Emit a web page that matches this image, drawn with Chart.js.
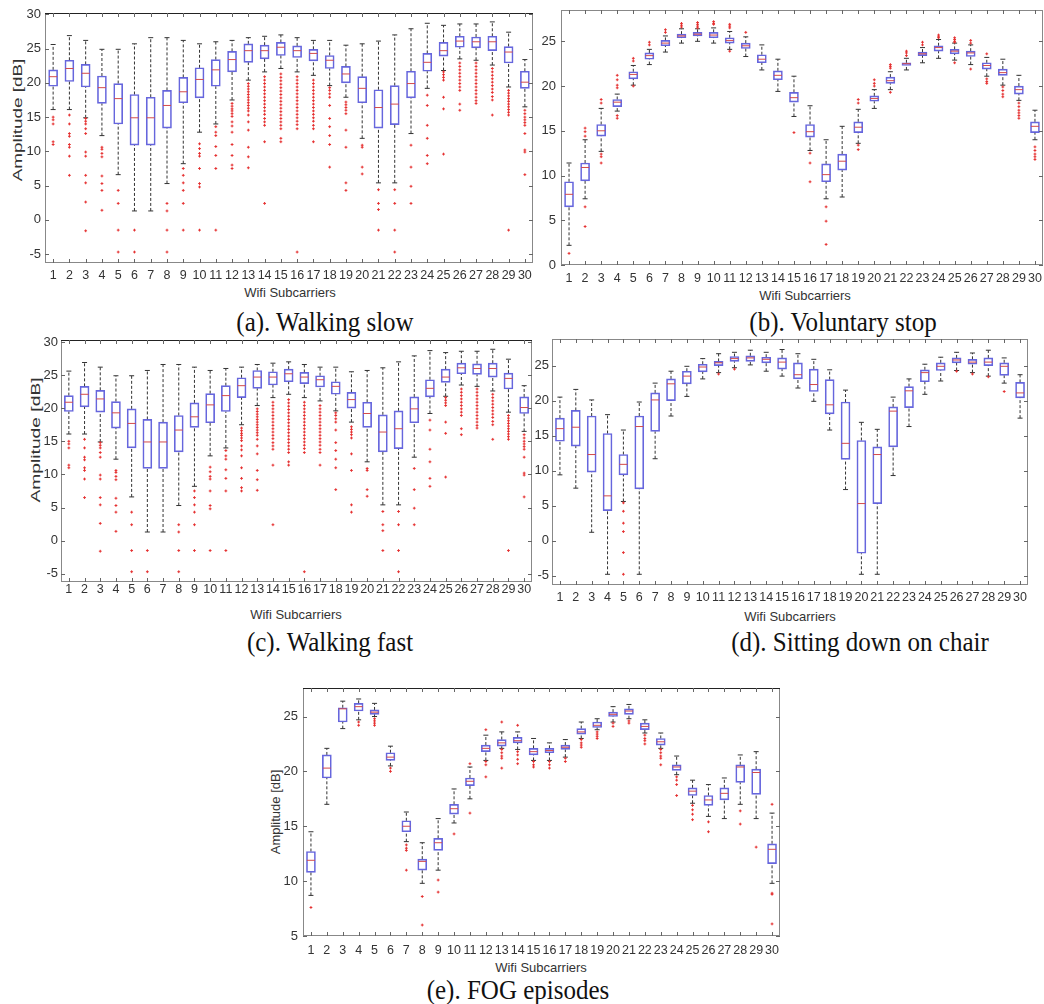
<!DOCTYPE html>
<html><head><meta charset="utf-8">
<script src="https://cdn.jsdelivr.net/npm/chart.js@4.4.1/dist/chart.umd.min.js"></script>
<style>
body{margin:0;background:#fff;width:1044px;height:1004px;position:relative;overflow:hidden;font-family:Arial,"Liberation Sans",sans-serif;}
canvas{position:absolute;}
.cap{position:absolute;font-family:"Liberation Serif","Times New Roman",serif;font-size:25px;color:#111;white-space:nowrap;transform:translate(-50%,-50%) scaleY(1.1);}
.xt{position:absolute;font-size:13px;color:#333;white-space:nowrap;transform:translate(-50%,-50%);}
.yt{position:absolute;font-size:13px;color:#333;white-space:nowrap;}
</style></head><body>
<div class="cap" style="left:325px;top:322px">(a). Walking slow</div>
<div class="cap" style="left:843px;top:322px">(b). Voluntary stop</div>
<div class="cap" style="left:330px;top:642px">(c). Walking fast</div>
<div class="cap" style="left:860px;top:642px">(d). Sitting down on chair</div>
<div class="cap" style="left:518px;top:990px">(e). FOG episodes</div>
<div class="xt" style="left:290px;top:292px">Wifi Subcarriers</div>
<div class="xt" style="left:805px;top:295px">Wifi Subcarriers</div>
<div class="xt" style="left:296px;top:614px">Wifi Subcarriers</div>
<div class="xt" style="left:790px;top:616px">Wifi Subcarriers</div>
<div class="xt" style="left:541px;top:967px">Wifi Subcarriers</div>
<div class="yt" style="left:17px;top:120px;transform:translate(-50%,-50%) rotate(-90deg) scaleX(1.45)">Amplitude [dB]</div>
<div class="yt" style="left:35px;top:440px;transform:translate(-50%,-50%) rotate(-90deg) scaleX(1.48)">Amplitude [dB]</div>
<div class="yt" style="left:275px;top:812px;transform:translate(-50%,-50%) rotate(-90deg)">Amplitude [dB]</div>
<script>
// ---------- DATA ----------
const subcarriers = [1,2,3,4,5,6,7,8,9,10,11,12,13,14,15,16,17,18,19,20,21,22,23,24,25,26,27,28,29,30];
const ticksWalk = [-5,0,5,10,15,20,25,30];
const ticksStop = [0,5,10,15,20,25];
const ticksSit = [-5,0,5,10,15,20,25];
const ticksFog = [5,10,15,20,25];

// (a) Walking slow
const walkSlowLow  = [16.1,16.1,14.9,12.3,6.6,1.3,1.3,5.3,8.2,12.8,14.0,17.5,20.4,21.6,22.1,21.6,21.1,19.6,17.9,11.9,5.4,5.4,12.6,19.2,21.8,23.5,23.3,22.6,19.4,16.5];
const walkSlowQ1   = [19.5,20.2,19.4,17.0,14.0,10.9,10.9,13.4,17.1,17.8,19.5,21.6,23.0,23.5,24.0,23.7,23.2,22.1,20.0,17.1,13.4,13.9,17.8,21.7,23.9,25.2,25.1,24.7,22.9,19.2];
const walkSlowMed  = [20.9,22.1,21.4,19.3,17.7,14.9,14.9,16.7,18.7,20.5,21.9,23.4,24.7,24.7,25.2,24.7,24.3,23.3,21.3,19.2,16.4,16.9,19.9,23.0,24.7,26.1,26.0,26.0,24.5,20.1];
const walkSlowQ3   = [21.9,23.3,22.7,21.0,19.9,18.3,17.9,18.9,20.8,22.2,23.4,24.6,25.7,25.5,25.9,25.4,24.9,24.0,22.4,20.9,19.0,19.6,21.7,24.3,25.9,26.8,26.7,26.8,25.3,21.7];
const walkSlowHigh = [25.6,26.9,26.2,24.9,24.9,25.7,26.6,26.6,26.2,25.7,26.0,26.2,26.6,26.8,27.0,26.6,26.2,26.2,25.5,25.7,26.1,27.0,27.9,28.7,28.4,28.6,28.6,28.9,27.4,23.4];
const walkSlowOutliers = [
 [15.0,14.6,14.0,11.4,11.0],
 [15.3,14.0,12.6,12.2,11.0,10.6,9.3,6.5],
 [14.8,14.4,14.0,13.3,12.6,9.9,9.3,6.5,5.4,2.6,-1.6],
 [10.6,10.3,9.7,9.2,6.4,5.3,4.3,1.4],
 [4.3,2.4,-1.5,-4.7],
 [-1.5,-4.7],
 [],
 [2.4,1.3,-1.5,-4.7],
 [7.5,6.5,5.4,4.3,2.4,-1.5],
 [11.1,10.4,9.7,9.3,7.5,5.3,4.8,-1.5],
 [13.6,12.8,12.3,10.7,9.4,7.5,-1.5],
 [17.0,16.6,16.2,15.9,15.5,15.1,14.3,13.7,12.8,11.0,9.4,8.0,7.5],
 [19.9,19.5,19.1,18.7,18.3,17.9,17.5,17.1,16.7,16.3,15.9,15.3,14.3,13.1,10.6,9.2,7.6],
 [20.9,20.4,19.9,19.4,18.9,18.4,17.9,17.4,16.9,16.4,15.9,15.4,14.8,14.3,13.8,11.4,2.4],
 [21.3,20.8,20.3,19.8,19.3,18.8,18.3,17.8,17.3,16.8,16.3,15.8,15.3,14.8,14.3,13.8,13.3,11.9,11.4],
 [20.9,20.4,19.9,19.4,18.9,18.4,17.9,17.4,16.9,16.4,15.9,15.4,14.9,14.4,13.9,13.3,-4.7],
 [20.4,19.9,19.4,18.9,18.4,17.9,17.4,16.9,16.4,15.9,15.4,14.9,14.4,13.8,13.3,11.4],
 [19.3,18.9,18.4,17.9,16.7,14.8,13.6,12.3,11.0,7.7],
 [17.2,16.8,16.4,16.0,15.5,13.1,10.6,5.4,4.3],
 [10.9,10.6,7.7,6.7],
 [4.4,2.4,1.5,-1.5],
 [4.4,2.4,-1.5,-4.7],
 [10.9,7.7,4.9,2.4],
 [18.2,16.7,13.8,11.9,9.4,8.2],
 [21.6,21.2,20.8,20.4,17.9,16.2,9.6],
 [22.9,22.4,21.9,21.4,20.9,20.4,19.9,19.4,18.9,16.9,16.0],
 [22.9,22.4,21.9,21.4,20.9,20.4,19.9,19.4,18.9,18.4,17.9,17.4,17.0],
 [22.1,21.6,21.1,20.6,20.1,19.6,19.1,18.6,18.0,17.5,15.3],
 [18.9,18.5,18.1,17.7,17.3,16.9,16.5,16.1,15.7,15.3,-1.5],
 [16.0,15.5,15.0,14.6,14.2,13.8,12.6,10.2,9.9,6.6]
];

// (c) Walking fast (the picture shows the same distribution as walking slow)
const walkFastLow = walkSlowLow, walkFastQ1 = walkSlowQ1, walkFastMed = walkSlowMed,
      walkFastQ3 = walkSlowQ3, walkFastHigh = walkSlowHigh, walkFastOutliers = walkSlowOutliers;

// (b) Voluntary stop
const stopLow  = [2.2,7.4,12.7,17.2,20.1,22.4,23.8,24.8,25.0,24.8,24.1,23.3,21.8,19.4,16.6,12.8,7.4,7.6,13.6,17.5,19.6,21.8,22.6,23.1,22.9,22.4,21.1,20.1,18.4,14.0];
const stopQ1   = [6.5,9.4,14.4,17.7,20.8,23.0,24.5,25.4,25.6,25.4,24.8,24.2,22.6,20.7,18.2,14.3,9.3,10.6,14.8,18.3,20.3,22.3,23.4,23.9,23.6,23.3,21.9,21.2,19.1,14.8];
const stopMed  = [7.9,10.9,15.0,18.2,21.3,23.4,24.8,25.6,25.8,25.7,25.1,24.5,23.0,21.2,18.7,14.9,10.1,11.6,15.4,18.6,20.6,22.5,23.6,24.3,23.9,23.7,22.3,21.5,19.6,15.5];
const stopQ3   = [9.3,11.4,15.7,18.5,21.6,23.7,25.1,25.8,26.0,26.0,25.4,24.8,23.5,21.7,19.3,15.7,11.3,12.4,16.0,18.9,21.0,22.6,23.8,24.5,24.1,23.9,22.6,21.9,20.0,16.0];
const stopHigh = [11.4,14.0,17.5,19.1,22.3,24.1,25.6,26.4,26.4,26.5,26.1,25.5,24.6,23.0,21.1,17.8,14.0,15.5,17.4,19.6,21.6,23.1,24.3,25.2,24.8,24.6,23.2,23.0,21.2,17.3];
const stopOutliers = [
 [1.3],[15.3,14.9,14.4,6.5,4.3],[18.5,18.1,12.4,12.1,11.4],[21.2,20.7,20.1,19.8,16.7,16.4],
 [23.1,22.8,20.0],[24.9,24.6],[26.3,26.0],[27.0,26.8,26.6],[27.1,26.9,26.7,26.5],[27.2,27.0,26.9],
 [26.9,26.7,26.5,23.9],[26.0],[],[],[14.8],[12.5,11.4,9.3],[6.5,4.9,2.3],[],
 [18.5,18.1,13.4,12.9],[20.7,20.3,20.0],[22.4,22.2,22.0,19.3],[23.9,23.7,23.4],[24.9,24.6],
 [25.7,25.5,25.4],[25.4,25.2,25.0,24.9,22.6],[25.1,24.8,21.9],[23.6,20.8,20.5,20.3],
 [19.9,19.5,19.1,18.8],[18.1,17.7,17.3,17.0,16.7,16.4],[13.2,12.8,12.4,12.1,11.8]
];

// (d) Sitting down on chair
const sitLow  = [9.4,7.5,1.2,-4.8,5.6,-4.8,11.7,17.8,20.6,23.1,24.0,24.7,25.1,24.2,23.5,21.8,19.9,15.8,7.3,-4.8,-4.8,9.3,16.3,20.9,22.8,24.3,24.0,23.5,22.5,17.5];
const sitQ1   = [14.2,13.5,9.8,4.3,9.4,7.4,15.6,20.0,22.4,24.1,25.0,25.6,25.6,25.4,24.5,23.1,21.3,18.1,11.6,-1.8,5.3,13.4,19.0,22.7,24.3,25.4,25.2,25.0,23.6,20.4];
const sitMed  = [16.0,16.2,12.3,6.4,10.9,16.3,20.1,22.4,23.5,24.8,25.4,26.0,26.1,25.9,25.5,23.7,22.3,19.4,13.9,5.3,12.3,18.5,21.4,24.0,24.9,25.8,25.5,25.5,24.9,21.1];
const sitQ3   = [17.5,18.6,17.8,15.3,12.3,17.8,21.1,23.1,24.2,25.2,25.6,26.3,26.4,26.2,26.1,25.4,24.5,23.0,19.8,14.3,13.4,19.1,22.0,24.4,25.4,26.1,25.9,26.1,25.4,22.6];
const sitHigh = [20.5,21.6,20.1,18.0,15.8,19.8,22.5,24.2,24.9,26.0,26.7,26.9,27.2,26.9,27.3,26.7,25.9,24.4,21.5,16.9,15.9,20.5,23.1,25.2,26.2,26.9,26.8,27.2,26.1,23.7];
const sitOutliers = [
 [],[],[],[],[5.4,4.2,2.5,1.3,-1.7,-4.8],[],[],[],[],[],[23.8],[24.5],[],[],[],
 [],[],[],[],[],[],[],[],[],[],[24.2],[23.8],[23.4],[21.3],[]
];

// (e) FOG episodes
const fogLow  = [8.7,17.0,23.9,24.7,25.0,20.5,13.6,9.8,11.0,15.3,17.5,21.0,22.1,22.0,21.0,21.0,21.3,23.0,23.8,24.5,24.8,23.5,22.1,19.7,17.1,15.9,15.7,17.0,15.7,9.8];
const fogQ1   = [10.8,19.4,24.5,25.5,25.2,21.0,14.5,11.0,12.8,16.1,18.7,21.8,22.3,22.6,21.5,21.7,22.0,23.4,24.0,25.0,25.2,23.8,22.4,20.1,17.8,16.9,17.4,19.0,17.9,11.6];
const fogMed  = [11.9,20.3,25.7,25.9,25.4,21.3,15.0,11.8,13.5,16.6,19.1,22.1,22.6,22.8,21.8,21.9,22.2,23.6,24.2,25.2,25.5,24.1,22.7,20.4,18.2,17.4,18.0,20.4,19.9,12.9];
const fogQ3   = [12.7,21.5,25.8,26.2,25.6,21.7,15.5,12.0,13.9,17.0,19.4,22.4,22.9,23.1,22.1,22.1,22.4,23.9,24.5,25.4,25.7,24.4,23.0,20.6,18.5,17.8,18.5,20.6,20.2,13.4];
const fogHigh = [14.5,22.1,26.4,26.6,26.2,22.3,16.3,13.5,15.7,18.4,20.4,23.3,23.6,23.6,23.0,22.6,22.9,24.5,24.8,25.9,26.1,24.7,23.5,21.4,19.2,18.8,19.4,21.5,21.8,16.2];
const fogOutliers = [
 [7.6],[],[],[24.5,24.2],[24.8,24.6,24.4,24.2],[20.3,20.0],[13.3,13.0,12.8,11.0],[8.6,6.0],[10.1,9.0],[14.3],
 [20.7,16.2],[23.8,20.9,20.6,19.5],[24.5,22.0,21.7,21.4,21.2,20.3],[24.2,21.8,21.5,21.1,20.7],[20.9,20.6,20.4],
 [20.9,20.6,20.3],[21.2,20.9],[22.9,22.6,22.4,22.2],[23.6,23.4,23.2,23.0],[24.4,24.1],
 [24.6,24.4],[23.3,23.0,22.8,22.5],[22.0,21.7,21.4,21.2,20.6],[19.5,19.2,18.8,17.8],[16.9,16.5,16.1,15.6],
 [15.4,14.5],[],[16.4,15.2],[13.1],[17.0,8.9,8.8,6.1]
];

// ---------- RENDERING ----------
const BOX = 'rgba(75,75,215,0.85)', MED = '#d44a4a', WHISK = '#333', OUT = '#e53030';

const framePlugin = {
  id: 'frame',
  afterDraw(chart, args, opts) {
    const {ctx, chartArea: a, scales: {x, y}} = chart;
    ctx.save();
    ctx.lineWidth = 1;
    ctx.strokeStyle = '#888';
    ctx.strokeRect(a.left + 0.5, a.top + 0.5, a.right - a.left - 1, a.bottom - a.top - 1);
    ctx.strokeStyle = opts.top || '#888';
    ctx.beginPath(); ctx.moveTo(a.left, a.top + 0.5); ctx.lineTo(a.right, a.top + 0.5); ctx.stroke();
    ctx.strokeStyle = '#666';
    ctx.beginPath();
    x.ticks.forEach(t => {
      const p = Math.round(x.getPixelForValue(t.value)) + 0.5;
      ctx.moveTo(p, a.bottom); ctx.lineTo(p, a.bottom - 4);
      ctx.moveTo(p, a.top); ctx.lineTo(p, a.top + 4);
    });
    y.ticks.forEach(t => {
      const p = Math.round(y.getPixelForValue(t.value)) + 0.5;
      ctx.moveTo(a.left, p); ctx.lineTo(a.left + 4, p);
      ctx.moveTo(a.right, p); ctx.lineTo(a.right - 4, p);
    });
    ctx.stroke();
    ctx.restore();
  }
};

function boxDatasets(low, q1, med, q3, high, outliers) {
  const boxes = subcarriers.map((c, i) => ({x: c, y: [q1[i], q3[i]]}));
  const whiskers = [];
  subcarriers.forEach((c, i) => {
    whiskers.push({x: c, y: q3[i]}, {x: c, y: high[i]}, {x: c, y: null},
                  {x: c, y: low[i]}, {x: c, y: q1[i]}, {x: c, y: null});
  });
  const caps = [];
  subcarriers.forEach((c, i) => { caps.push({x: c, y: high[i]}, {x: c, y: low[i]}); });
  const medians = subcarriers.map((c, i) => ({x: c, y: med[i]}));
  const outs = [];
  outliers.forEach((arr, i) => arr.forEach(v => outs.push({x: subcarriers[i], y: v})));
  return [
    {type: 'line', data: whiskers, borderColor: WHISK, borderWidth: 1, borderDash: [3, 2],
     pointRadius: 0, spanGaps: false, fill: false, order: 4},
    {type: 'bar', data: boxes, backgroundColor: 'rgba(255,255,255,0)', borderColor: BOX,
     borderWidth: 1, borderSkipped: false, barThickness: 9, order: 3},
    {type: 'line', data: caps, showLine: false, pointStyle: 'line', pointRadius: 2.5,
     pointBorderColor: WHISK, pointBorderWidth: 1, order: 2},
    {type: 'line', data: medians, showLine: false, pointStyle: 'line', pointRadius: 4,
     pointBorderColor: MED, pointBorderWidth: 1, order: 1},
    {type: 'line', data: outs, showLine: false, pointStyle: 'cross', pointRadius: 1.4,
     pointBorderColor: OUT, pointBorderWidth: 1, order: 0}
  ];
}

function zeroPad(s) { s.paddingTop = 0; s.paddingBottom = 0; s.paddingLeft = 0; s.paddingRight = 0; }

function makePanel(rect, yMin, yMax, yTicks, sets, cfg) {
  const padL = 44, padT = 6, padR = 6, padB = 28;
  const c = document.createElement('canvas');
  c.width = rect.r - rect.l + padL + padR;
  c.height = rect.b - rect.t + padT + padB;
  c.style.left = (rect.l - padL) + 'px';
  c.style.top = (rect.t - padT) + 'px';
  document.body.appendChild(c);
  new Chart(c, {
    type: 'bar',
    data: {datasets: sets},
    plugins: [framePlugin],
    options: {
      responsive: false, animation: false, events: [],
      layout: {padding: {left: 0, top: padT, right: padR, bottom: 0}},
      plugins: {legend: {display: false}, tooltip: {enabled: false}, frame: {top: cfg.top}},
      scales: {
        x: {
          type: 'linear', min: 0.5, max: 30.5, offset: false,
          afterBuildTicks: s => { s.ticks = subcarriers.map(v => ({value: v})); },
          afterFit: s => { s.height = padB; zeroPad(s); },
          grid: {display: false, drawTicks: false}, border: {display: false},
          ticks: {autoSkip: false, maxRotation: 0, minRotation: 0, padding: cfg.xPad,
                  color: '#333', font: {family: 'Arial, "Liberation Sans"', size: 12.5}}
        },
        y: {
          type: 'linear', min: yMin, max: yMax,
          afterBuildTicks: s => { s.ticks = yTicks.map(v => ({value: v})); },
          afterFit: s => { s.width = padL; zeroPad(s); },
          grid: {display: false, drawTicks: false}, border: {display: false},
          ticks: {padding: cfg.yPad, color: '#333', font: {family: 'Arial, "Liberation Sans"', size: 13}}
        }
      }
    }
  });
}

makePanel({l: 45, t: 13, r: 533, b: 263}, -6.3, 30.2, ticksWalk,
  boxDatasets(walkSlowLow, walkSlowQ1, walkSlowMed, walkSlowQ3, walkSlowHigh, walkSlowOutliers),
  {xPad: 5, yPad: 4, top: '#222'});
makePanel({l: 561, t: 10, r: 1043, b: 265}, 0, 28.5, ticksStop,
  boxDatasets(stopLow, stopQ1, stopMed, stopQ3, stopHigh, stopOutliers),
  {xPad: 6, yPad: 5, top: '#888'});
makePanel({l: 61, t: 340, r: 532, b: 582}, -6.25, 30.3, ticksWalk,
  boxDatasets(walkFastLow, walkFastQ1, walkFastMed, walkFastQ3, walkFastHigh, walkFastOutliers),
  {xPad: 0, yPad: 3, top: '#222'});
makePanel({l: 552, t: 339, r: 1028, b: 585}, -6.33, 28.8, ticksSit,
  boxDatasets(sitLow, sitQ1, sitMed, sitQ3, sitHigh, sitOutliers),
  {xPad: 5, yPad: 3, top: '#888'});
makePanel({l: 303, t: 688, r: 780, b: 936}, 5, 27.6, ticksFog,
  boxDatasets(fogLow, fogQ1, fogMed, fogQ3, fogHigh, fogOutliers),
  {xPad: 7, yPad: 5, top: '#222'});
</script>
</body></html>
